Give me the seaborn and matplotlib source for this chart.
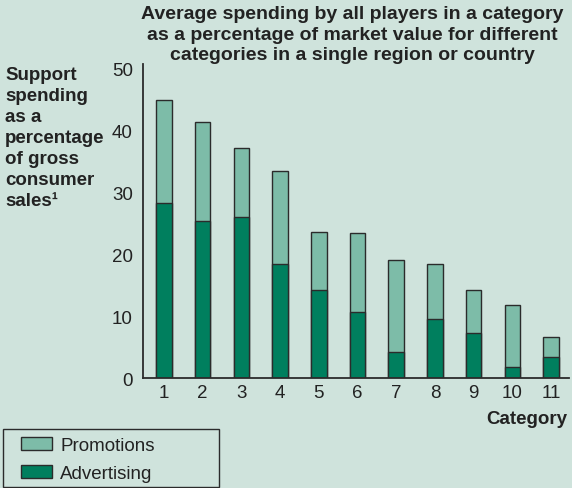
import matplotlib
matplotlib.use("Agg")
import matplotlib.pyplot as plt
import seaborn as sns
import pandas as pd
from matplotlib.patches import Patch, Rectangle

# Data: support spending as a percentage of gross consumer sales
categories = ["1", "2", "3", "4", "5", "6", "7", "8", "9", "10", "11"]
advertising = [28.2, 25.4, 26.1, 18.5, 14.3, 10.7, 4.2, 9.5, 7.3, 1.8, 3.5]
promotions = [16.7, 16.0, 11.1, 14.9, 9.3, 12.7, 14.9, 8.9, 7.0, 10.0, 3.2]
y_ticks = [0, 10, 20, 30, 40, 50]

df = pd.DataFrame({
    "category": categories,
    "advertising": advertising,
    "total": [a + p for a, p in zip(advertising, promotions)],
})

BG = "#cfe3dc"
ADV = "#007f5e"
PROMO = "#7dbca8"
EDGE = "#2b2b2b"
TEXT = "#222222"
FS = 13.5

sns.set_theme(style="white")
plt.rcParams["font.family"] = ["Liberation Sans", "DejaVu Sans"]

W, H = 572, 489
fig = plt.figure(figsize=(W / 100, H / 100), dpi=100, facecolor=BG)
ax = fig.add_axes([142.5 / W, 1 - 379.3 / H, 426.5 / W, 314.3 / H])
ax.set_facecolor(BG)

# Stacked bars: full height (promotions on top), advertising drawn over the base
sns.barplot(data=df, x="category", y="total", color=PROMO, width=0.4,
            edgecolor=EDGE, linewidth=1.0, saturation=1, ax=ax, order=categories)
sns.barplot(data=df, x="category", y="advertising", color=ADV, width=0.4,
            edgecolor=EDGE, linewidth=1.0, saturation=1, ax=ax, order=categories)

ax.set_xlim(-0.55, 10.46)
ax.set_ylim(0, 50.7)
ax.set_yticks(y_ticks)
ax.set_xlabel("")
ax.set_ylabel("")
ax.tick_params(axis="both", length=0, labelsize=FS, colors=TEXT)
ax.tick_params(axis="y", pad=7)
ax.tick_params(axis="x", pad=4)
for side in ["top", "right"]:
    ax.spines[side].set_visible(False)
for side in ["left", "bottom"]:
    ax.spines[side].set_color(EDGE)
    ax.spines[side].set_linewidth(1.3)

fig.text(352 / W, 1 - 6 / H,
         "Average spending by all players in a category\n"
         "as a percentage of market value for different\n"
         "categories in a single region or country",
         ha="center", va="top", fontsize=14, fontweight="bold", color=TEXT,
         linespacing=1.27)

fig.text(5 / W, 1 - 67 / H,
         "Support\nspending\nas a\npercentage\nof gross\nconsumer\nsales¹",
         ha="left", va="top", fontsize=FS, fontweight="bold", color=TEXT,
         linespacing=1.31)

fig.text(567 / W, 1 - 420 / H, "Category", ha="right", va="center",
         fontsize=FS, fontweight="bold", color=TEXT)

# Legend box and entries
fig.add_artist(Rectangle((3 / W, 1 - 488 / H), 216 / W, 58 / H,
                         transform=fig.transFigure, facecolor="none",
                         edgecolor=EDGE, linewidth=1.0))
handles = [Patch(facecolor=PROMO, edgecolor=EDGE, linewidth=1.0, label="Promotions"),
           Patch(facecolor=ADV, edgecolor=EDGE, linewidth=1.0, label="Advertising")]
leg = fig.legend(handles=handles, loc="center left",
                 bbox_to_anchor=(21 / W, 1 - 460.5 / H),
                 fontsize=FS, frameon=False,
                 handlelength=1.65, handleheight=0.7, handletextpad=0.45,
                 labelspacing=0.61, borderpad=0, borderaxespad=0)
for t in leg.get_texts():
    t.set_color(TEXT)

fig.savefig("out.png", dpi=100, facecolor=BG)
